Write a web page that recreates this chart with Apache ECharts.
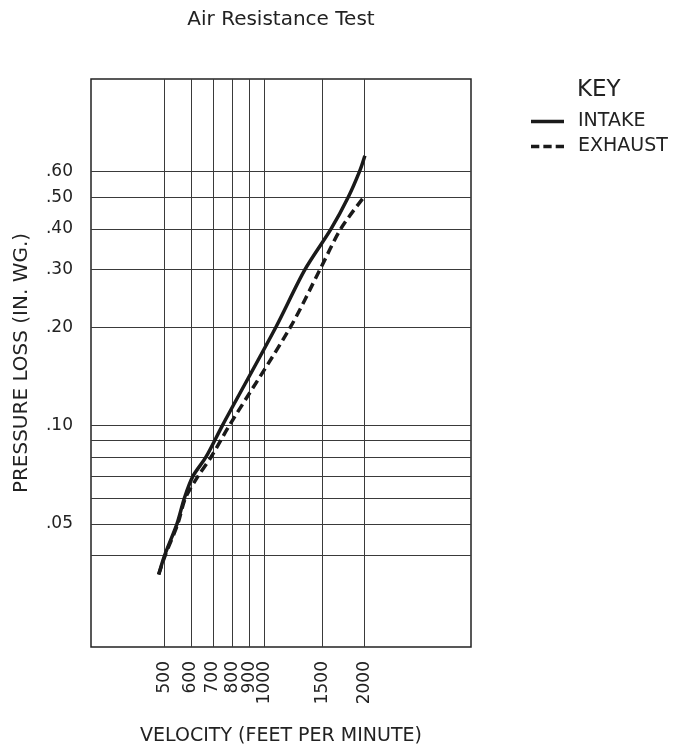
<!DOCTYPE html>
<html><head><meta charset="utf-8">
<script src="https://cdn.jsdelivr.net/npm/echarts@6/dist/echarts.min.js"></script>
<style>html,body{margin:0;padding:0;background:#fff}#c{width:683px;height:751px}</style>
</head><body><div id="c"></div>
<script>
const velocityTicks = [500, 600, 700, 800, 900, 1000, 1500, 2000];
const pressureGrid = [0.04, 0.05, 0.06, 0.07, 0.08, 0.09, 0.1, 0.2, 0.3, 0.4, 0.5, 0.6];
const pressureLabels = [0.05, 0.1, 0.2, 0.3, 0.4, 0.5, 0.6];
const intakeVelocity = [480, 500, 545, 574, 609, 666, 747, 1083, 1325, 1589, 1790, 1937, 2010];
const intakePressure = [0.035, 0.04, 0.05, 0.06, 0.07, 0.08, 0.10, 0.20, 0.30, 0.40, 0.50, 0.60, 0.67];
const exhaustVelocity = [480, 502, 548, 578, 631, 690, 784, 1198, 1471, 1700, 1995];
const exhaustPressure = [0.035, 0.04, 0.05, 0.06, 0.07, 0.08, 0.10, 0.20, 0.30, 0.40, 0.50];

const FONT = 'DejaVu Sans';
const INK = '#222';
const LINE = '#1a1a1a';
const zip = (a, b) => a.map((v, i) => [v, b[i]]);

const chart = echarts.init(document.getElementById('c'));
chart.setOption({
  animation: false,
  backgroundColor: '#fff',
  title: [
    { text: 'Air Resistance Test', left: 281, top: 10, textAlign: 'center', padding: 0,
      textStyle: { fontFamily: FONT, fontSize: 20, fontWeight: 'normal', color: INK } },
    { text: 'KEY', left: 577, top: 79, padding: 0,
      textStyle: { fontFamily: FONT, fontSize: 23, fontWeight: 'normal', color: INK } }
  ],
  legend: {
    orient: 'vertical', left: 531, top: 112, itemWidth: 33, itemHeight: 20, itemGap: 6,
    padding: 0,
    textStyle: { fontFamily: FONT, fontSize: 19, color: INK, padding: [0, 0, 0, 9] },
    data: [
      { name: 'INTAKE', icon: 'path://M0,0h33v3.6h-33z' },
      { name: 'EXHAUST', icon: 'path://M0,0h8.3v3.6h-8.3zM12.35,0h8.3v3.6h-8.3zM24.7,0h8.3v3.6h-8.3z' }
    ]
  },
  grid: { left: 91, top: 79, width: 380, height: 569, show: true,
          borderColor: '#222', borderWidth: 1.5, backgroundColor: 'transparent' },
  xAxis: {
    type: 'log', logBase: 10, min: 300, max: 4200,
    name: 'VELOCITY (FEET PER MINUTE)', nameLocation: 'middle', nameGap: 80,
    nameTextStyle: { fontFamily: FONT, fontSize: 19, color: INK },
    axisLine: { show: false },
    axisTick: { show: false, customValues: velocityTicks },
    axisLabel: { customValues: velocityTicks, rotate: 90, margin: 14,
      fontFamily: FONT, fontSize: 17, color: INK,
      formatter: v => String(Math.round(v)) },
    splitLine: { show: true, lineStyle: { color: '#3a3a3a', width: 1 } },
    minorSplitLine: { show: false }
  },
  yAxis: {
    type: 'log', logBase: 10, min: 0.021, max: 1.15,
    name: 'PRESSURE LOSS (IN. WG.)', nameLocation: 'middle', nameGap: 59,
    nameTextStyle: { fontFamily: FONT, fontSize: 20, color: INK },
    axisLine: { show: false },
    axisTick: { show: false, customValues: pressureGrid },
    axisLabel: { customValues: pressureLabels, margin: 18,
      fontFamily: FONT, fontSize: 17, color: INK,
      formatter: v => (Math.round(v * 100) / 100).toFixed(2).replace(/^0/, '') },
    splitLine: { show: true, lineStyle: { color: '#3a3a3a', width: 1 } },
    minorSplitLine: { show: false }
  },
  series: [
    { name: 'INTAKE', type: 'line', data: zip(intakeVelocity, intakePressure),
      symbol: 'none', smooth: 0.3, z: 5,
      lineStyle: { color: LINE, width: 3.5, type: 'solid' },
      itemStyle: { color: LINE } },
    { name: 'EXHAUST', type: 'line', data: zip(exhaustVelocity, exhaustPressure),
      symbol: 'none', smooth: 0.3, z: 4,
      lineStyle: { color: LINE, width: 3.5, type: [9, 5] },
      itemStyle: { color: LINE } }
  ]
});
</script></body></html>
